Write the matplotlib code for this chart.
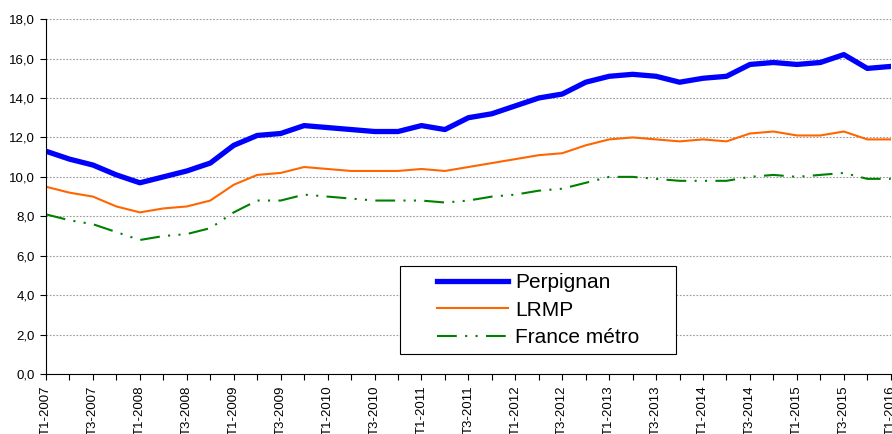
import numpy as np
import matplotlib.pyplot as plt
from matplotlib.patches import Rectangle
from matplotlib.ticker import FuncFormatter

plt.rcParams['font.family'] = ['Liberation Sans', 'DejaVu Sans']

# quarters T1-2007 .. T1-2016
quarters = ['T%d-%d' % (q, y) for y in range(2007, 2017) for q in range(1, 5)][:37]

perpignan = [11.3, 10.9, 10.6, 10.1, 9.7, 10.0, 10.3, 10.7, 11.6, 12.1, 12.2, 12.6,
             12.5, 12.4, 12.3, 12.3, 12.6, 12.4, 13.0, 13.2, 13.6, 14.0, 14.2, 14.8,
             15.1, 15.2, 15.1, 14.8, 15.0, 15.1, 15.7, 15.8, 15.7, 15.8, 16.2, 15.5, 15.6]
lrmp = [9.5, 9.2, 9.0, 8.5, 8.2, 8.4, 8.5, 8.8, 9.6, 10.1, 10.2, 10.5,
        10.4, 10.3, 10.3, 10.3, 10.4, 10.3, 10.5, 10.7, 10.9, 11.1, 11.2, 11.6,
        11.9, 12.0, 11.9, 11.8, 11.9, 11.8, 12.2, 12.3, 12.1, 12.1, 12.3, 11.9, 11.9]
france = [8.1, 7.8, 7.6, 7.2, 6.8, 7.0, 7.1, 7.4, 8.2, 8.8, 8.8, 9.1,
          9.0, 8.9, 8.8, 8.8, 8.8, 8.7, 8.8, 9.0, 9.1, 9.3, 9.4, 9.7,
          10.0, 10.0, 9.9, 9.8, 9.8, 9.8, 10.0, 10.1, 10.0, 10.1, 10.2, 9.9, 9.9]

x = np.arange(len(quarters))

fig = plt.figure(figsize=(8.92, 4.34), dpi=100)
ax = fig.add_axes([0.0516, 0.138, 0.947, 0.818])

ax.plot(x, perpignan, color='#0000FF', lw=3.8, label='Perpignan')
ax.plot(x, lrmp, color='#FF6600', lw=1.5, label='LRMP')
ax.plot(x, france, color='#008000', lw=1.5, dashes=(9.5, 4, 1, 4, 1, 4), label='France métro')

ax.set_xlim(0, 36)
ax.set_ylim(0, 18)
ax.set_yticks(np.arange(0, 19, 2))
ax.yaxis.set_major_formatter(FuncFormatter(lambda v, p: ('%.1f' % v).replace('.', ',')))
ax.set_xticks(x)
ax.set_xticklabels([q if i % 2 == 0 else '' for i, q in enumerate(quarters)], rotation=90)
ax.tick_params(axis='both', labelsize=9.5, length=4, width=0.8, color='black', pad=4)
ax.grid(axis='y', color='#999999', linestyle=(0, (1.5, 1.5)), lw=0.8)
ax.spines['top'].set_visible(False)
ax.spines['right'].set_visible(False)

# legend box drawn separately (wide frame, content centred)
ax.add_patch(Rectangle((0.419, 0.056), 0.327, 0.248, transform=ax.transAxes,
                       facecolor='white', edgecolor='black', lw=0.8, zorder=4))
leg = ax.legend(loc='center', bbox_to_anchor=(0.583, 0.180), fontsize=15,
                frameon=False, handlelength=3.4, handletextpad=0.35,
                borderpad=0, labelspacing=0.42, borderaxespad=0)
leg.set_zorder(5)

fig.savefig('out.png', dpi=100)
